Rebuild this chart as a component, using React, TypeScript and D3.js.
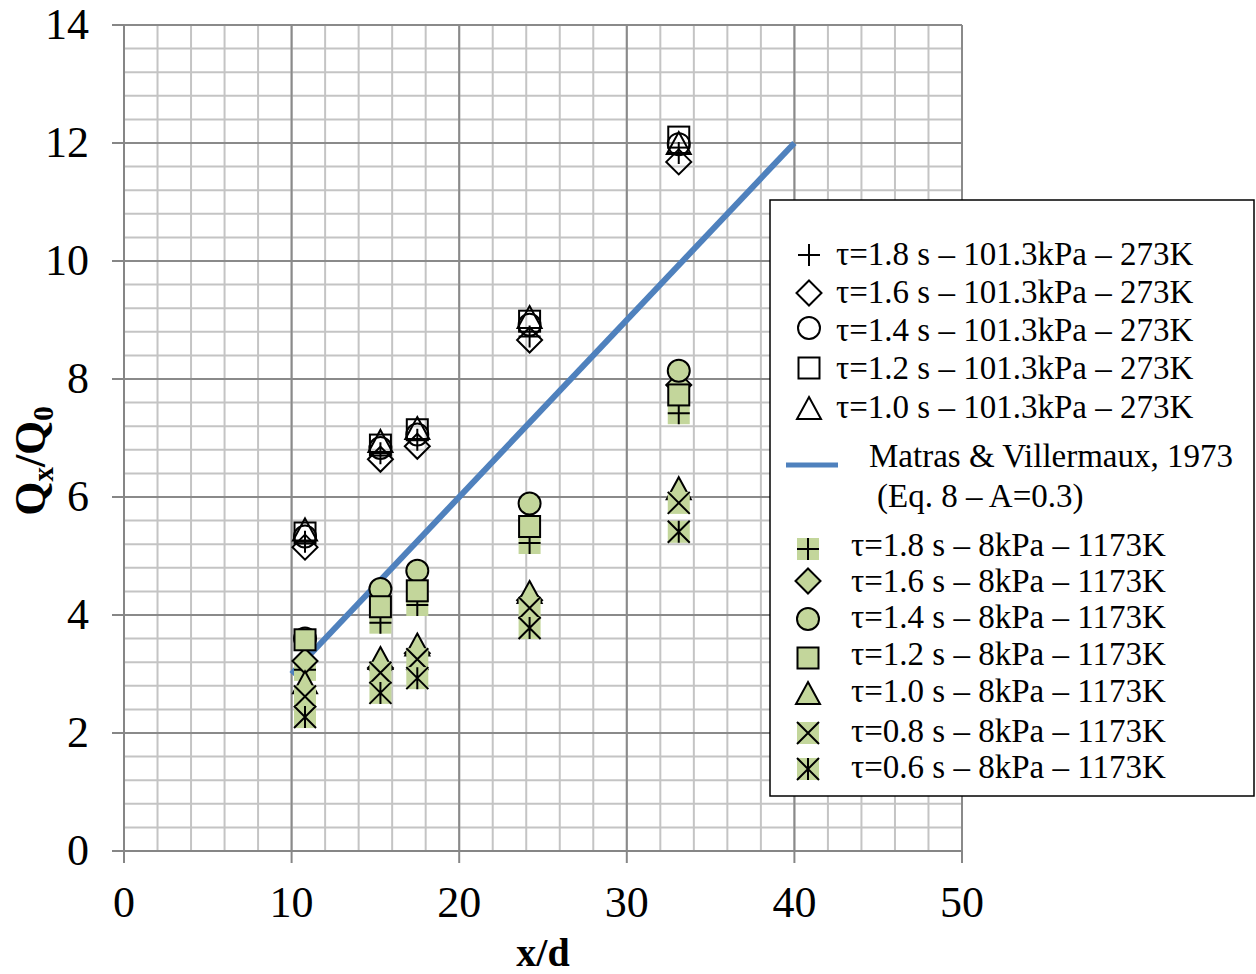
import * as d3 from "d3";

const xPositions = [10.8, 15.3, 17.5, 24.2, 33.1];

// 101.3 kPa – 273 K (open markers)
const atmSeries = [
  { label: "τ=1.8 s – 101.3kPa – 273K", marker: "plus", values: [5.24, 6.74, 6.97, 8.72, 11.83] },
  { label: "τ=1.6 s – 101.3kPa – 273K", marker: "diamond", values: [5.15, 6.64, 6.86, 8.66, 11.68] },
  { label: "τ=1.4 s – 101.3kPa – 273K", marker: "circle", values: [5.33, 6.83, 7.06, 8.92, 11.98] },
  { label: "τ=1.2 s – 101.3kPa – 273K", marker: "square", values: [5.39, 6.88, 7.14, 8.98, 12.1] },
  { label: "τ=1.0 s – 101.3kPa – 273K", marker: "triangle", values: [5.45, 6.95, 7.17, 9.05, 12.0] },
];

// 8 kPa – 1173 K (green markers)
const vacSeries = [
  { label: "τ=1.8 s – 8kPa – 1173K", marker: "plus", values: [3.07, 3.87, 4.17, 5.22, 7.42] },
  { label: "τ=1.6 s – 8kPa – 1173K", marker: "diamond", values: [3.22, 3.1, 3.35, 4.25, 7.9] },
  { label: "τ=1.4 s – 8kPa – 1173K", marker: "circle", values: [3.6, 4.44, 4.75, 5.89, 8.14] },
  { label: "τ=1.2 s – 8kPa – 1173K", marker: "square", values: [3.58, 4.14, 4.41, 5.5, 7.73] },
  { label: "τ=1.0 s – 8kPa – 1173K", marker: "triangle", values: [2.86, 3.27, 3.5, 4.39, 6.15] },
  { label: "τ=0.8 s – 8kPa – 1173K", marker: "cross", values: [2.62, 3.02, 3.25, 4.12, 5.9] },
  { label: "τ=0.6 s – 8kPa – 1173K", marker: "star", values: [2.27, 2.68, 2.93, 3.78, 5.41] },
];

// Matras & Villermaux, 1973 (Eq. 8 – A=0.3)
const modelX = [10, 40];
const modelY = [3, 12];

const xTicks = [0, 10, 20, 30, 40, 50];
const yTicks = [0, 2, 4, 6, 8, 10, 12, 14];

const GREEN = "#c3d69b";
const BLUE = "#4f81bd";
const FONT = "'Liberation Serif', 'Times New Roman', serif";

function Marker({ type, x, y, green }: { type: string; x: number; y: number; green: boolean }) {
  const fill = green ? GREEN : "none";
  const sw = 2;
  const h = 11;
  if (type === "square")
    return <rect x={x - 10.5} y={y - 10.5} width={21} height={21} fill={fill} stroke="#000" strokeWidth={sw} />;
  if (type === "circle") return <circle cx={x} cy={y} r={11} fill={fill} stroke="#000" strokeWidth={sw} />;
  if (type === "diamond")
    return (
      <path
        d={`M${x},${y - 12.5}L${x + 12.5},${y}L${x},${y + 12.5}L${x - 12.5},${y}Z`}
        fill={fill}
        stroke="#000"
        strokeWidth={sw}
      />
    );
  if (type === "triangle")
    return (
      <path
        d={`M${x},${y - 11}L${x + 12},${y + 11}L${x - 12},${y + 11}Z`}
        fill={fill}
        stroke="#000"
        strokeWidth={sw}
      />
    );
  const lines: string[] = [];
  if (type === "plus" || type === "star") lines.push(`M${x},${y - h}L${x},${y + h}`);
  if (type === "plus") lines.push(`M${x - h},${y}L${x + h},${y}`);
  if (type === "cross" || type === "star")
    lines.push(`M${x - h},${y - h}L${x + h},${y + h}`, `M${x - h},${y + h}L${x + h},${y - h}`);
  return (
    <g>
      {green && <rect x={x - h} y={y - h} width={2 * h} height={2 * h} fill={GREEN} />}
      <path d={lines.join("")} stroke="#000" strokeWidth={sw} fill="none" />
    </g>
  );
}

export default function App() {
  const width = 1256;
  const height = 974;
  const x = d3.scaleLinear().domain([0, 50]).range([124, 962]);
  const y = d3.scaleLinear().domain([0, 14]).range([851, 25]);

  const minorX = d3.range(0, 50.01, 2);
  const minorY = d3.range(0, 14.01, 0.4);

  const line = d3
    .line<number>()
    .x((d) => x(d))
    .y((_, i) => y(modelY[i]));

  // legend rows: marker centre and text baseline
  const atmRows = [255, 293, 328, 368, 408];
  const atmBase = [265, 303, 341, 379, 418];
  const vacRows = [549, 581, 619, 658, 693, 733, 769];
  const vacBase = [556, 592, 628, 665, 702, 742, 778];

  return (
    <svg
      width={width}
      height={height}
      style={{ position: "absolute", left: 0, top: 0, background: "#fff" }}
      fontFamily={FONT}
    >
      {/* grid */}
      {minorX.map((v) => (
        <line key={"mx" + v} x1={x(v)} x2={x(v)} y1={y(0)} y2={y(14)} stroke="#c4c4c4" strokeWidth={2} />
      ))}
      {minorY.map((v) => (
        <line key={"my" + v} x1={x(0)} x2={x(50)} y1={y(v)} y2={y(v)} stroke="#c4c4c4" strokeWidth={2} />
      ))}
      {xTicks.map((v) => (
        <line key={"gx" + v} x1={x(v)} x2={x(v)} y1={y(0)} y2={y(14)} stroke="#8a8a8a" strokeWidth={2} />
      ))}
      {yTicks.map((v) => (
        <line key={"gy" + v} x1={x(0)} x2={x(50)} y1={y(v)} y2={y(v)} stroke="#8a8a8a" strokeWidth={2} />
      ))}

      {/* axes */}
      <line x1={x(0)} x2={x(0)} y1={y(0)} y2={y(14)} stroke="#868686" strokeWidth={2} />
      <line x1={x(0)} x2={x(50)} y1={y(0)} y2={y(0)} stroke="#868686" strokeWidth={2} />
      {yTicks.map((v) => (
        <g key={"ty" + v}>
          <line x1={x(0) - 12} x2={x(0)} y1={y(v)} y2={y(v)} stroke="#868686" strokeWidth={2} />
          <text x={89} y={y(v) + 14} textAnchor="end" fontSize={44}>
            {v}
          </text>
        </g>
      ))}
      {xTicks.map((v) => (
        <g key={"tx" + v}>
          <line x1={x(v)} x2={x(v)} y1={y(0)} y2={y(0) + 12} stroke="#868686" strokeWidth={2} />
          <text x={x(v)} y={917} textAnchor="middle" fontSize={44}>
            {v}
          </text>
        </g>
      ))}

      <text x={x(25)} y={966} textAnchor="middle" fontSize={40} fontWeight="bold">
        x/d
      </text>
      <text transform="translate(45,461) rotate(-90)" textAnchor="middle" fontSize={44} fontWeight="bold">
        Q<tspan fontSize={29} dy={8}>x</tspan>
        <tspan dy={-8}>/Q</tspan>
        <tspan fontSize={29} dy={8}>0</tspan>
      </text>

      {/* model line */}
      <path d={line(modelX) || ""} fill="none" stroke={BLUE} strokeWidth={6} />

      {/* data */}
      {atmSeries.map((s) =>
        s.values.map((v, i) => (
          <Marker key={s.label + i} type={s.marker} x={x(xPositions[i])} y={y(v)} green={false} />
        ))
      )}
      {vacSeries.map((s) =>
        s.values.map((v, i) => (
          <Marker key={s.label + i} type={s.marker} x={x(xPositions[i])} y={y(v)} green={true} />
        ))
      )}

      {/* legend */}
      <rect x={770} y={200} width={484} height={596} fill="#fff" stroke="#000" strokeWidth={1.5} />
      {atmSeries.map((s, i) => (
        <g key={"la" + i}>
          <Marker type={s.marker} x={809} y={atmRows[i]} green={false} />
          <text x={836} y={atmBase[i]} fontSize={33}>
            {s.label}
          </text>
        </g>
      ))}
      <line x1={786} x2={838} y1={465} y2={465} stroke={BLUE} strokeWidth={5} />
      <text x={869} y={467} fontSize={33}>
        Matras &amp; Villermaux, 1973
      </text>
      <text x={877} y={507} fontSize={33}>
        (Eq. 8 – A=0.3)
      </text>
      {vacSeries.map((s, i) => (
        <g key={"lv" + i}>
          <Marker type={s.marker} x={808} y={vacRows[i]} green={true} />
          <text x={851} y={vacBase[i]} fontSize={33}>
            {s.label}
          </text>
        </g>
      ))}
    </svg>
  );
}
